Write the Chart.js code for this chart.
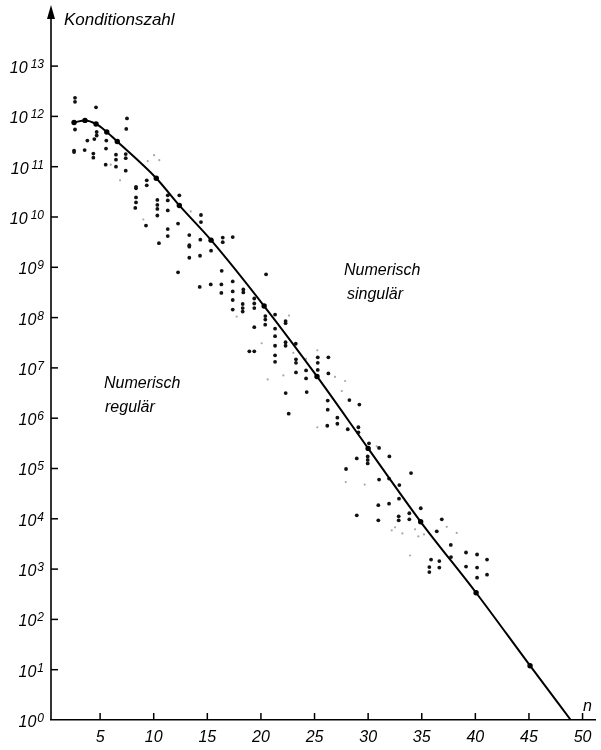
<!DOCTYPE html>
<html>
<head>
<meta charset="utf-8">
<script src="https://cdn.jsdelivr.net/npm/chart.js@4/dist/chart.umd.min.js"></script>
<style>
  html, body { margin: 0; padding: 0; background: #fff; }
  #wrap { width: 601px; height: 750px; }
</style>
</head>
<body>
<div id="wrap"><canvas id="chart" width="601" height="750"></canvas></div>
<script>

// Ausgleichskurve
const kurveN   = [2.57, 3.59, 4.62, 5.62, 6.6, 10.24, 12.39, 15.35, 20.3, 25.23, 30.0, 34.9, 40.07, 45.1, 48.9];
const kurveExp = [11.88, 11.92, 11.85, 11.69, 11.5, 10.77, 10.23, 9.54, 8.23, 6.83, 5.40, 3.94, 2.53, 1.08, 0];
const kurvePunkt = [1, 1, 1, 1, 1, 1, 1, 1, 1, 1, 1, 1, 1, 1, 0];

// Einzelwerte (schwarze Punkte)
const punktN = [
  2.66, 2.66, 4.62, 7.51, 7.44, 2.66, 4.68, 4.68, 4.46, 3.81,
  5.58, 2.57, 2.57, 3.56, 4.37, 4.37, 5.55, 6.48, 6.48, 7.39,
  7.39, 5.52, 6.48, 7.39, 9.35, 9.35, 8.35, 8.35, 8.35, 8.35,
  8.28, 10.34, 10.34, 10.34, 10.34, 11.31, 11.31, 12.39, 11.31, 12.27,
  11.31, 11.31, 10.49, 9.28, 13.32, 13.32, 13.32, 14.41, 14.41, 14.35,
  13.32, 14.32, 15.35, 16.44, 16.44, 17.37, 12.27, 14.29, 15.32, 16.34,
  16.31, 16.31, 17.37, 17.37, 17.37, 17.37, 18.36, 18.36, 18.30, 18.30,
  18.30, 19.38, 19.38, 19.38, 20.48, 20.41, 20.41, 21.32, 19.38, 20.4,
  21.32, 21.32, 21.32, 21.32, 21.32, 22.3, 22.3, 22.3, 22.3, 18.92,
  19.38, 23.25, 23.27, 23.27, 23.27, 25.30, 25.30, 25.30, 26.29, 26.29,
  24.21, 24.21, 22.31, 24.27, 22.59, 26.23, 26.23, 27.13, 27.13, 26.19,
  28.25, 29.18, 28.10, 29.09, 29.09, 30.08, 28.94, 29.96, 29.96, 29.96,
  31.02, 27.94, 31.98, 31.02, 31.95, 32.91, 34.00, 32.88, 31.95, 30.95,
  28.94, 30.95, 32.85, 32.85, 33.84, 33.84, 34.91, 36.87, 36.40, 37.71,
  37.73, 35.87, 36.64, 36.64, 35.71, 35.71, 39.13, 40.16, 41.09, 39.13,
  40.16, 41.09, 40.16
];
const punktExp = [
  12.37, 12.29, 12.18, 11.96, 11.75, 11.74, 11.69, 11.62, 11.55, 11.52,
  11.52, 11.32, 11.29, 11.33, 11.26, 11.18, 11.36, 11.24, 11.14, 11.25,
  11.17, 11.04, 11.0, 10.92, 10.73, 10.63, 10.60, 10.57, 10.39, 10.29,
  10.18, 10.34, 10.24, 10.16, 10.03, 10.43, 10.33, 10.43, 10.13, 9.87,
  9.76, 9.62, 9.48, 9.83, 9.64, 9.44, 9.41, 10.04, 9.90, 9.55,
  9.19, 9.23, 9.33, 9.59, 9.50, 9.60, 8.90, 8.61, 8.66, 8.93,
  8.66, 8.49, 8.72, 8.52, 8.35, 8.16, 8.56, 8.50, 8.27, 8.19,
  8.12, 8.38, 8.28, 8.19, 8.86, 8.03, 7.96, 8.06, 7.81, 7.86,
  7.78, 7.63, 7.44, 7.25, 7.12, 7.93, 7.89, 7.51, 7.44, 7.33,
  7.33, 7.48, 7.17, 7.10, 6.91, 7.21, 7.10, 6.96, 7.21, 6.89,
  6.95, 6.79, 6.50, 6.52, 6.09, 6.35, 6.17, 6.01, 5.89, 5.85,
  6.36, 6.27, 5.78, 5.82, 5.72, 5.50, 5.20, 5.24, 5.17, 5.10,
  5.41, 4.99, 5.24, 4.78, 4.80, 4.67, 4.91, 4.40, 4.30, 4.27,
  4.07, 3.97, 4.05, 3.97, 4.11, 3.99, 4.21, 3.99, 3.75, 3.48,
  3.24, 3.19, 3.16, 3.03, 3.04, 2.94, 3.33, 3.29, 3.19, 3.05,
  3.03, 2.89, 2.83
];

// schwache, kaum gedruckte Punkte
const blassN   = [5.99, 6.86, 9.44, 10.52, 10.03, 9.03, 13.45, 17.74, 20.07, 22.62, 23.02, 24.21, 25.26, 20.63, 22.09, 26.91,
                  27.85, 27.54, 25.26, 30.80, 27.91, 29.68, 32.20, 32.51, 33.19, 34.38, 34.68, 35.21, 37.33, 38.26, 33.91];
const blassExp = [11.04, 10.73, 11.11, 11.13, 11.23, 9.95, 10.11, 8.02, 7.49, 8.04, 7.30, 7.18, 7.35, 6.77, 6.85, 6.82,
                  6.74, 6.54, 5.82, 5.44, 4.73, 4.68, 3.77, 3.83, 3.71, 3.79, 3.65, 3.69, 3.84, 3.72, 3.27];

// Achsen
const xTickWerte = [5, 10, 15, 20, 25, 30, 35, 40, 45, 50];
const yTickExp   = [0, 1, 2, 3, 4, 5, 6, 7, 8, 9, 10, 11, 12, 13];
const xMin = 0.42, xMax = 51.16;
const yMaxExp = 14.155;

const SCHRIFT = '"Liberation Sans", Arial, sans-serif';

function paare(ns, exps) {
  return ns.map((n, i) => ({ x: n, y: Math.pow(10, exps[i]) }));
}

const achsenPlugin = {
  id: 'achsen',
  afterDraw(chart) {
    const ctx = chart.ctx;
    const a = chart.chartArea;
    const x = chart.scales.x, y = chart.scales.y;
    ctx.save();
    ctx.strokeStyle = '#000';
    ctx.fillStyle = '#000';

    // y-Achse mit Pfeil
    ctx.lineWidth = 1.6;
    ctx.beginPath();
    ctx.moveTo(a.left, a.bottom);
    ctx.lineTo(a.left, 14);
    ctx.stroke();
    ctx.beginPath();
    ctx.moveTo(a.left, 5);
    ctx.lineTo(a.left - 4, 19);
    ctx.lineTo(a.left + 4, 19);
    ctx.closePath();
    ctx.fill();

    // Teilstriche nach innen
    ctx.lineWidth = 1.5;
    yTickExp.forEach(e => {
      if (e === 0) return;
      const py = y.getPixelForValue(Math.pow(10, e));
      ctx.beginPath();
      ctx.moveTo(a.left, py);
      ctx.lineTo(a.left + 7, py);
      ctx.stroke();
    });
    xTickWerte.forEach(v => {
      const px = x.getPixelForValue(v);
      ctx.beginPath();
      ctx.moveTo(px, a.bottom);
      ctx.lineTo(px, a.bottom - 7);
      ctx.stroke();
    });

    // y-Beschriftung 10 hoch k
    ctx.textAlign = 'right';
    ctx.textBaseline = 'alphabetic';
    yTickExp.forEach(e => {
      const py = y.getPixelForValue(Math.pow(10, e));
      const hoch = String(e);
      ctx.font = 'italic 12px ' + SCHRIFT;
      ctx.fillText(hoch, 44, py + 2);
      const w = ctx.measureText(hoch).width + (hoch.length > 1 ? 3 : 1);
      ctx.font = 'italic 16px ' + SCHRIFT;
      ctx.fillText('10', 44 - w, py + 7);
    });

    // Texte
    ctx.textAlign = 'left';
    ctx.font = 'italic 17px ' + SCHRIFT;
    ctx.fillText('Konditionszahl', 64, 25);
    ctx.font = 'italic 16px ' + SCHRIFT;
    ctx.fillText('n', 583, 711);
    ctx.fillText('Numerisch', 344, 275);
    ctx.fillText('singulär', 347, 299);
    ctx.fillText('Numerisch', 104, 388);
    ctx.fillText('regulär', 105, 412);
    ctx.restore();
  }
};

new Chart(document.getElementById('chart'), {
  type: 'scatter',
  data: {
    datasets: [
      {
        label: 'Ausgleichskurve',
        type: 'line',
        data: paare(kurveN, kurveExp),
        borderColor: '#000',
        borderWidth: 2,
        pointRadius: kurvePunkt.map(p => p ? 2.7 : 0),
        pointBackgroundColor: '#000',
        pointBorderWidth: 0,
        cubicInterpolationMode: 'monotone',
        fill: false,
        order: 0
      },
      {
        label: 'Einzelwerte',
        data: paare(punktN, punktExp),
        pointRadius: 1.9,
        pointBackgroundColor: '#111',
        pointBorderWidth: 0,
        order: 1
      },
      {
        label: 'blass',
        data: paare(blassN, blassExp),
        pointRadius: 1.1,
        pointBackgroundColor: '#a8a8a8',
        pointBorderWidth: 0,
        order: 2
      }
    ]
  },
  options: {
    responsive: false,
    animation: false,
    layout: { padding: { top: 8, right: 6, left: 0, bottom: 0 } },
    plugins: {
      legend: { display: false },
      tooltip: { enabled: false }
    },
    scales: {
      x: {
        type: 'linear',
        min: xMin,
        max: xMax,
        afterBuildTicks: s => { s.ticks = xTickWerte.map(v => ({ value: v })); },
        afterFit: s => { s.height = 30; },
        grid: { display: false, drawTicks: false },
        border: { display: true, color: '#000', width: 1.6 },
        ticks: {
          color: '#000',
          padding: 8,
          maxRotation: 0,
          autoSkip: false,
          font: { family: SCHRIFT, size: 16, style: 'italic' }
        }
      },
      y: {
        type: 'logarithmic',
        min: 1,
        max: Math.pow(10, yMaxExp),
        afterBuildTicks: s => { s.ticks = yTickExp.map(e => ({ value: Math.pow(10, e) })); },
        afterFit: s => { s.width = 51; },
        grid: { display: false, drawTicks: false },
        border: { display: false },
        ticks: { display: false }
      }
    }
  },
  plugins: [achsenPlugin]
});
</script>
</body>
</html>
